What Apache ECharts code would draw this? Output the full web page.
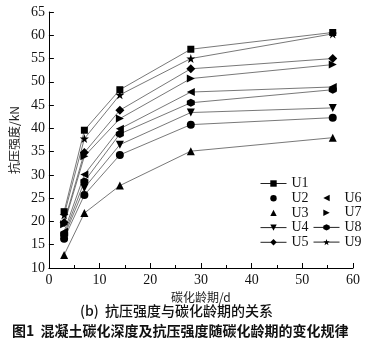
<!DOCTYPE html>
<html>
<head>
<meta charset="utf-8">
<script src="https://cdn.jsdelivr.net/npm/echarts@6/dist/echarts.min.js"></script>
<style>
html,body{margin:0;padding:0;background:#fff;}
#c{width:369px;height:345px;}
</style>
</head>
<body>
<div id="c"></div>
<script>
// Carbonation age (days)
const ages = [3, 7, 14, 28, 56];
// Compressive strength (kN) for each mix
const U1 = [22.1, 39.6, 48.3, 57.0, 60.6];
const U2 = [16.3, 25.7, 34.3, 40.8, 42.3];
const U3 = [12.8, 21.8, 27.7, 35.1, 38.0];
const U4 = [16.8, 27.2, 36.5, 43.4, 44.4];
const U5 = [19.8, 34.8, 43.9, 52.8, 55.0];
const U6 = [17.8, 30.1, 39.9, 47.8, 48.9];
const U7 = [19.4, 34.0, 42.1, 50.7, 53.7];
const U8 = [17.2, 28.6, 38.8, 45.5, 48.3];
const U9 = [21.4, 37.8, 47.2, 55.0, 60.3];
const yTicks = [10, 15, 20, 25, 30, 35, 40, 45, 50, 55, 60, 65];
const xTicks = [0, 10, 20, 30, 40, 50, 60];

const STAR = 'path://M50,0 L61.8,35.1 L98.9,35.1 L68.9,56.8 L80.3,91.9 L50,70.2 L19.7,91.9 L31.1,56.8 L1.1,35.1 L38.2,35.1 Z';
const HEX = 'path://M50,0 L93.3,25 L93.3,75 L50,100 L6.7,75 L6.7,25 Z';

const defs = [
  {name: 'U1', data: U1, symbol: 'rect', size: 7, rot: 0},
  {name: 'U2', data: U2, symbol: 'circle', size: 8, rot: 0},
  {name: 'U3', data: U3, symbol: 'triangle', size: 8, rot: 0},
  {name: 'U4', data: U4, symbol: 'triangle', size: 8, rot: 180},
  {name: 'U5', data: U5, symbol: 'diamond', size: 9, rot: 0},
  {name: 'U6', data: U6, symbol: 'triangle', size: 8, rot: 90},
  {name: 'U7', data: U7, symbol: 'triangle', size: 8, rot: -90},
  {name: 'U8', data: U8, symbol: HEX, size: 8, rot: 0},
  {name: 'U9', data: U9, symbol: STAR, size: 9, rot: 0}
];

const series = defs.map(d => ({
  name: d.name,
  type: 'line',
  data: ages.map((a, i) => [a, d.data[i]]),
  symbol: d.symbol,
  symbolSize: d.size,
  symbolRotate: d.rot,
  showAllSymbol: true,
  lineStyle: {color: '#555', width: 0.8},
  itemStyle: {color: '#000'},
  emphasis: {disabled: true},
  z: 2
}));

const SERIF = '"Liberation Serif", "Times New Roman", serif';
const withLine = {color: '#222', width: 1};
const noLine = {width: 0, opacity: 0};
const legendText = {fontFamily: SERIF, fontSize: 14, color: '#111', lineHeight: 14};

const chart = echarts.init(document.getElementById('c'), null, {renderer: 'canvas'});
chart.setOption({
  animation: false,
  backgroundColor: '#fff',
  grid: {left: 34, right: 16, top: 12, bottom: 77},
  legend: [
    {
      orient: 'vertical', left: 255, top: 171.5,
      itemWidth: 26, itemHeight: 8, itemGap: 0.7,
      textStyle: legendText,
      data: [
        {name: 'U1', lineStyle: withLine},
        {name: 'U2', lineStyle: noLine},
        {name: 'U3', lineStyle: noLine},
        {name: 'U4', lineStyle: withLine},
        {name: 'U5', lineStyle: withLine}
      ]
    },
    {
      orient: 'vertical', left: 308, top: 186,
      itemWidth: 26, itemHeight: 8, itemGap: 0.7,
      textStyle: legendText,
      data: [
        {name: 'U6', lineStyle: noLine},
        {name: 'U7', lineStyle: noLine},
        {name: 'U8', lineStyle: withLine},
        {name: 'U9', lineStyle: withLine}
      ]
    }
  ],
  xAxis: {
    type: 'value', min: xTicks[0], max: xTicks[xTicks.length - 1], interval: 10,
    axisLine: {lineStyle: {color: '#000', width: 1}},
    axisTick: {inside: true, length: 5, lineStyle: {color: '#000'}},
    minorTick: {show: true, splitNumber: 2, length: 3, lineStyle: {color: '#000'}},
    splitLine: {show: false},
    axisLabel: {fontFamily: SERIF, fontSize: 14, color: '#111', margin: 5},
    name: '碳化龄期/d', nameLocation: 'middle', nameGap: 20,
    nameTextStyle: {fontFamily: 'Noto Sans CJK SC', fontSize: 12, color: '#222'}
  },
  yAxis: {
    type: 'value', min: yTicks[0], max: yTicks[yTicks.length - 1], interval: 5,
    axisLine: {show: true, lineStyle: {color: '#000', width: 1}},
    axisTick: {show: true, inside: true, length: 5, lineStyle: {color: '#000'}},
    splitLine: {show: false},
    axisLabel: {fontFamily: SERIF, fontSize: 14, color: '#111', margin: 4},
    name: '抗压强度/kN', nameLocation: 'middle', nameGap: 22, nameRotate: 90,
    nameTextStyle: {fontFamily: 'Noto Sans CJK SC', fontSize: 12, color: '#222'}
  },
  series: series,
  graphic: [
    {
      type: 'text', left: 80, top: 304,
      style: {text: '(b)  抗压强度与碳化龄期的关系', font: '500 14px "Noto Sans CJK SC"', fill: '#111'}
    },
    {
      type: 'text', left: 12, top: 324,
      style: {text: '图1  混凝土碳化深度及抗压强度随碳化龄期的变化规律', font: 'bold 14px "Noto Sans CJK SC"', fill: '#111'}
    }
  ]
});
</script>
</body>
</html>
